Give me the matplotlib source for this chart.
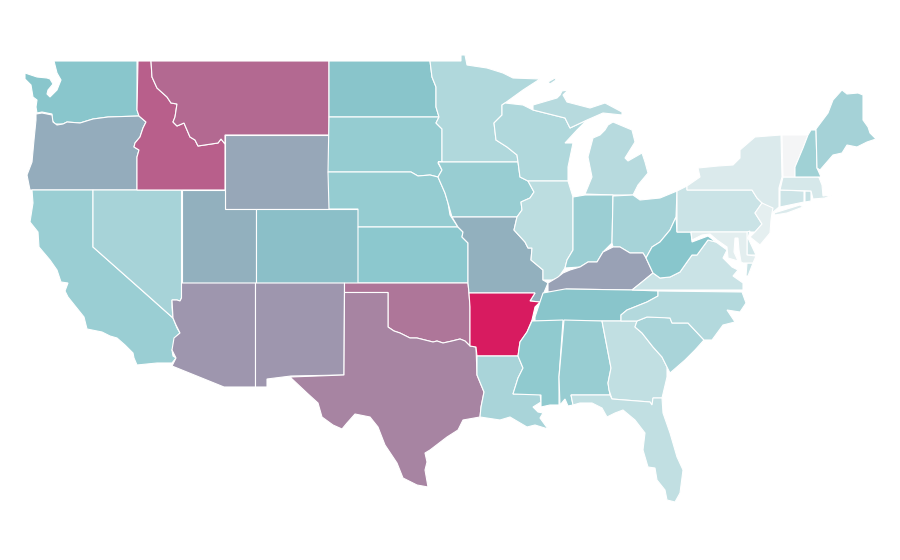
# -*- coding: utf-8 -*-
import matplotlib
matplotlib.use('Agg')
import matplotlib.pyplot as plt
from matplotlib.colors import LinearSegmentedColormap
from matplotlib.patches import Polygon

# state values
states = ['WA','OR','CA','NV','ID','MT','WY','UT','AZ','CO','NM','ND','SD','NE','KS','OK','TX',
          'MN','IA','MO','AR','LA','WI','IL','MI','IN','OH','KY','TN','MS','AL','GA','FL','SC','NC',
          'VA','WV','PA','NY','NJ','DE','MD','CT','RI','MA','VT','NH','ME']
values = [.395,.49,.334,.286,.76,.726,.51,.48,.57,.425,.57,.405,.355,.355,.385,.68,.63,
          .253,.34,.48,1.0,.28,.25,.21,.23,.33,.29,.53,.405,.37,.34,.19,.19,.28,.24,
          .16,.40,.16,.095,.055,.13,.065,.145,.17,.11,.0,.31,.295]

# Red River, shared by Oklahoma and Texas, east to west
red_river = [(470,346),(465,341),(460,339),(452,341),(443,343),(437,341),(433,342),(425,340),(417,338),(410,338),(400,333),(394,331),(388,327)]

# outlines (one list per part)
outlines = {
 'WA': [[(54,61),(137,61),(137,110),(139,116),(108,117),(93,119),(80,123),(67,122),(63,124),(55,124),(52,120),(52,114),(42,112),(37,113),(36,107),(37,100),(33,97),(31,85),(25,79),(25,73),(37,77),(47,78),(50,79),(53,84),(48,90),(47,94),(50,97),(57,90),(61,80),(57,73)]],
 'OR': [[(36,114),(42,113),(52,115),(53,122),(57,125),(63,124),(67,122),(80,123),(93,119),(108,117),(139,116),(146,122),(143,128),(140,137),(135,143),(134,147),(139,150),(137,157),(137,190),(30,190),(27,175),(32,162),(34,140),(36,120)]],
 'CA': [[(32,190),(93,190),(93,247),(173,318),(177,328),(180,333),(175,338),(174,347),(172,350),(173,356),(176,358),(172,363),(157,363),(137,365),(134,358),(133,353),(125,345),(117,338),(110,336),(102,332),(87,329),(84,317),(68,297),(65,291),(68,283),(61,282),(57,270),(50,260),(39,247),(38,232),(30,222),(33,203)]],
 'NV': [[(93,190),(181.5,190),(181.5,298),(180,301),(177,300),(172,300),(172,307),(173,318),(145,293),(93,247)]],
 'ID': [[(138,61),(151,61),(152,77),(157,88),(167,97),(171,103),(177,104),(175,117),(173,122),(177,126),(184,123),(190,137),(195,140),(198,146),(218,143),(221,139),(225,144),(225,190),(137,190),(137,157),(139,150),(134,147),(135,143),(140,137),(143,128),(146,122),(139,116),(137,110)]],
 'MT': [[(151,61),(329,61),(329,135),(225,135),(225,144),(221,139),(218,143),(198,146),(195,140),(190,137),(184,123),(177,126),(173,122),(175,117),(177,104),(171,103),(167,97),(157,88),(152,77)]],
 'WY': [[(225,135),(329,135),(329,209),(225,209)]],
 'UT': [[(181.5,190),(225,190),(225,209),(255.5,209),(255.5,283),(181.5,283)]],
 'AZ': [[(181.5,283),(255.5,283),(255.5,387),(224,387),(172,366),(176,358),(172,350),(174,338),(180,333),(176,325),(173,318),(172,300),(177,300),(180,301),(181.5,298)]],
 'CO': [[(255.5,209),(358,209),(358,283),(255.5,283)]],
 'NM': [[(255.5,283),(344.5,283),(344,375),(291,376),(267,379),(267,387),(255.5,387)]],
 'ND': [[(329,61),(430,61),(432,77),(436,87),(436,107),(439,117),(329,117)]],
 'SD': [[(329,117),(439,117),(436,123),(442,129),(442,162),(438,163),(442,170),(438,177),(430,175),(418,176),(411,172),(328,172)]],
 'NE': [[(328,172),(411,172),(418,176),(430,175),(438,177),(445,193),(448,203),(450,215),(458,227),(358,227),(358,209),(329,209)]],
 'KS': [[(358,227),(458,227),(463,232),(462,237),(468,243),(468,283),(358,283)]],
 'OK': [[(344.5,283),(468,283),(469,293),(470,307)] + red_river + [(388,292.5),(344.5,292.5)]],
 'TX': [[(344.5,292.5),(388,292.5)] + red_river[::-1] + [(476,347),(477,375),(484,392),(481,407),(480,417),(463,420),(458,430),(447,437),(430,450),(425,453),(427,462),(425,470),(428,487),(417,485),(403,478),(397,463),(385,445),(378,427),(370,417),(355,414),(347,423),(342,429),(333,425),(322,417),(318,403),(307,393),(290,377),(344,375)]],
 'MN': [[(430,61),(461,61),(461,55),(465,55),(467,65),(487,68),(503,73),(513,78),(540,79),(523,90),(505,103),(502,105),(502,115),(494,123),(496,140),(507,147),(517,155),(518,162),(438,162),(442,162),(442,129),(436,123),(439,117),(436,107),(436,87),(432,77)]],
 'IA': [[(438,162),(518,162),(520,177),(528,181),(534,192),(530,198),(521,202),(522,210),(517,217),(452,217),(448,203),(445,193),(438,177),(442,170)]],
 'MO': [[(452,217),(517,217),(514,230),(525,242),(528,248),(532,248),(531,260),(543,270),(543,280),(548,283),(540,302),(530,301),(535,293),(469,293),(468,283),(468,243),(462,237),(463,232),(458,227)]],
 'AR': [[(469,293),(535,293),(530,301),(540,302),(535,307),(532,320),(527,332),(520,342),(518,356),(477,356),(476,347),(470,346),(470,307)]],
 'LA': [[(477,356),(518,356),(523,368),(518,378),(513,394),(540,394),(541,402),(533,407),(538,412),(543,413),(540,418),(548,429),(535,425),(527,427),(510,417),(500,420),(480,417),(481,407),(484,392),(477,375)]],
 'WI': [[(505,103),(523,105),(533,110),(565,118),(570,128),(587,120),(577,130),(565,143),(573,143),(568,167),(568,181),(528,181),(520,177),(518,162),(517,155),(507,147),(496,140),(494,123),(502,115),(502,105)]],
 'IL': [[(528,181),(568,181),(573,197),(573,250),(567,260),(565,268),(558,278),(552,280),(543,280),(543,270),(531,260),(532,248),(528,248),(525,242),(514,230),(517,217),(522,210),(521,202),(530,198),(534,192)]],
 'MI': [[(533,105),(557,98),(560,95),(562,91),(568,90),(563,95),(567,102),(590,108),(605,103),(622,112),(622,115),(603,113),(587,120),(570,128),(565,118),(533,110)],
        [(548,82),(555,78),(556,80),(550,84)],
        [(613,122),(632,130),(635,142),(625,158),(628,161),(642,153),(645,162),(648,173),(638,185),(633,195),(613,195),(585,194),(592,177),(588,157),(593,138),(600,135),(605,130),(608,125)]],
 'IN': [[(573,197),(585,195),(613,195),(612,243),(603,252),(597,262),(588,262),(580,267),(565,268),(567,260),(573,250)]],
 'OH': [[(613,196),(633,195),(640,200),(660,198),(677,191),(676,217),(670,230),(660,242),(652,247),(646,258),(643,253),(630,253),(620,247),(613,247),(612,243)]],
 'KY': [[(580,267),(588,262),(597,262),(603,252),(613,247),(620,247),(630,253),(643,253),(646,258),(653,273),(642,282),(632,290),(566,289),(565,293),(548,292),(548,283),(558,277),(563,273),(570,270)]],
 'TN': [[(535,317),(540,302),(543,293),(565,289),(633,290),(658,291),(658,296),(647,302),(627,310),(621,315),(621,321),(535,321)]],
 'MS': [[(532,321),(563,320),(559,377),(559,405),(550,405),(541,407),(541,395),(513,394),(518,378),(523,368),(518,356),(520,342),(527,332)]],
 'AL': [[(564,320),(602,321),(611,368),(608,383),(610,395),(571,395),(573,405),(568,406),(565,399),(560,405),(559,377)]],
 'GA': [[(602,321),(637,321),(635,327),(642,333),(653,347),(662,357),(667,367),(667,377),(662,398),(653,398),(652,405),(650,402),(612,399),(609,390),(608,383),(611,368)]],
 'FL': [[(571,395),(610,395),(612,399),(650,402),(652,405),(653,398),(662,398),(663,413),(670,433),(677,457),(683,470),(680,493),(675,502),(667,500),(665,490),(657,480),(655,468),(648,467),(643,450),(645,433),(635,420),(623,410),(615,413),(607,417),(602,408),(592,403),(580,403),(573,405)]],
 'SC': [[(637,321),(647,317),(660,317),(670,318),(672,323),(688,323),(704,340),(695,350),(685,360),(670,373),(667,367),(662,357),(653,347),(642,333),(635,327)]],
 'NC': [[(658,291),(742,292),(746,303),(740,312),(727,310),(735,322),(723,325),(712,340),(704,340),(688,323),(672,323),(670,318),(647,317),(637,321),(621,321),(621,315),(627,310),(647,302),(658,296)]],
 'VA': [[(632,290),(642,282),(653,273),(660,278),(670,277),(680,272),(687,262),(692,255),(697,255),(708,240),(716,242),(727,250),(723,258),(732,267),(738,270),(733,276),(743,283),(743,290)],
        [(747,263),(753,263),(748,276),(746,276)]],
 'WV': [[(677,232),(691,232),(692,242),(708,236),(716,242),(708,240),(697,255),(692,255),(687,262),(680,272),(670,277),(660,278),(653,273),(646,258),(652,247),(660,242),(670,230),(676,217)]],
 'PA': [[(677,191),(687,186),(687,190),(752,190),(757,198),(762,203),(755,213),(762,224),(755,232),(677,232)]],
 'NY': [[(687,186),(700,177),(698,168),(718,166),(733,165),(740,158),(740,150),(755,137),(781,135),(782,177),(779,188),(779,207),(772,213),(762,203),(757,198),(752,190),(687,190)],
        [(774,213),(800,205),(803,207),(787,213),(775,215)]],
 'NJ': [[(762,203),(773,208),(772,213),(771,220),(770,233),(760,245),(750,237),(755,232),(762,224),(755,213)]],
 'DE': [[(747,232),(750,231),(748,238),(756,255),(747,255)]],
 'MD': [[(691,232),(747,232),(747,255),(756,256),(753,263),(743,263),(741,262),(739,250),(738,238),(735,238),(734,252),(738,261),(728,258),(727,247),(717,240),(710,234),(702,235),(692,240)]],
 'CT': [[(780,190),(804,191),(804,202),(780,207)]],
 'RI': [[(805,191),(811,191),(811,201),(805,202)]],
 'MA': [[(783,177),(821,177),(818,175),(822,185),(823,196),(832,195),(825,198),(813,199),(811,191),(780,190)]],
 'VT': [[(782,135),(808,135),(803,148),(795,167),(795,177),(783,177)]],
 'NH': [[(808,135),(811,130),(816,130),(817,168),(821,177),(795,177),(795,167),(803,148)]],
 'ME': [[(816,129),(828,113),(833,100),(842,90),(847,94),(858,93),(863,95),(863,120),(868,127),(870,133),(876,139),(867,142),(857,147),(847,145),(842,153),(833,155),(820,170),(817,168)]],
}

# light grey -> teal -> crimson
cmap = LinearSegmentedColormap.from_list('rate', [(0, '#f4f5f6'), (0.4, '#88c6cc'), (1, '#d81b60')])

fig = plt.figure(figsize=(9, 5.6), dpi=100)
ax = fig.add_axes([0, 0, 1, 1])
ax.set_xlim(0, 900)
ax.set_ylim(560, 0)
ax.axis('off')

for s, v in zip(states, values):
    for part in outlines[s]:
        ax.add_patch(Polygon(part, closed=True, facecolor=cmap(v), edgecolor='white', linewidth=0.8))

fig.savefig('out.png', dpi=100)
